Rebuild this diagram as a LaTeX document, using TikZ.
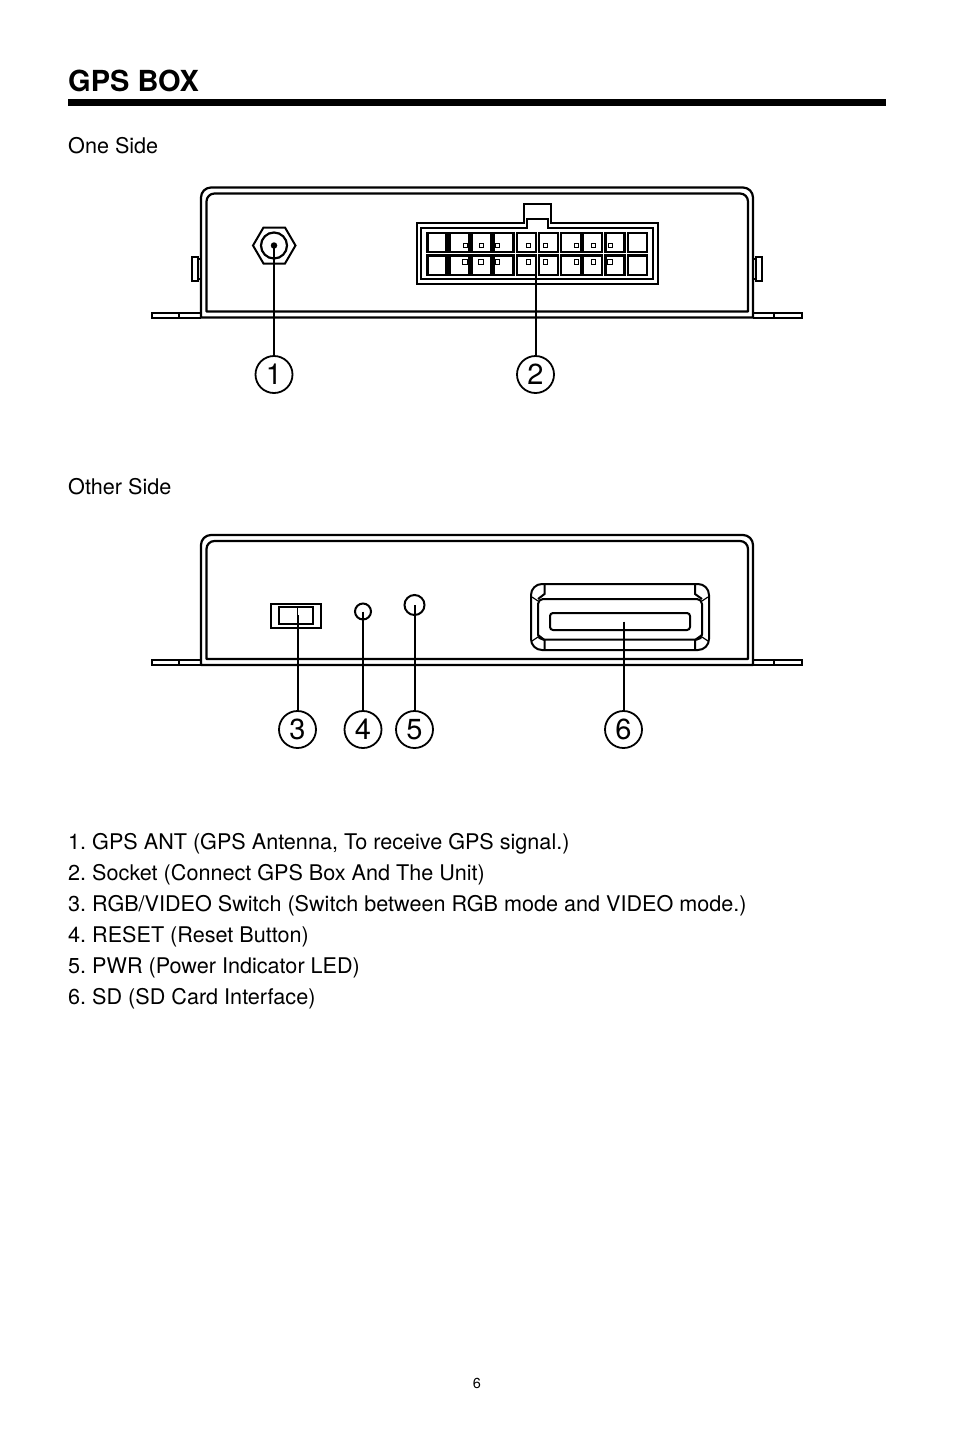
\documentclass[tikz,border=0pt]{standalone}
\usepackage{fontspec}
\setmainfont{TeX Gyre Heros}
\usetikzlibrary{positioning}
\tikzset{
        x=1pt, y=-1pt, % one unit is one pixel of the page, y runs down
        body/.style={anchor=base west, inner sep=0pt, font=\fontsize{21.6}{26}\selectfont\frenchspacing},
        title/.style={anchor=base west, inner sep=0pt, font=\fontsize{29}{34}\selectfont\bfseries},
        callout/.style={circle, draw, line width=1.8pt, minimum size=37pt, inner sep=0pt, font=\fontsize{29}{34}\selectfont},
        case/.style={line width=2.2pt, line join=round},
        part/.style={line width=2pt, line join=miter},
        cell/.style={line width=2.4pt},
        thinpart/.style={line width=1.2pt},
        leader/.style={line width=2pt},
    }
% case of the box, same on both sides, #1 shifts it down
\newcommand{\gpscase}[1]{
  \begin{scope}[yshift=-#1pt]
    \draw[case] (201,317.5) [rounded corners=10pt] -- (201,187.5) -- (753,187.5) [sharp corners] -- (753,317.5) -- cycle;
    \draw[case] (206.5,311.5) [rounded corners=8pt] -- (206.5,193.5) -- (748,193.5) [sharp corners] -- (748,311.5) -- cycle;
    \draw[part] (201,312.5) -- (152,312.5) -- (152,317.5) -- (201,317.5) (179,312.5) -- (179,317.5);
    \draw[part] (753,312.5) -- (802,312.5) -- (802,317.5) -- (753,317.5) (774,312.5) -- (774,317.5);
  \end{scope}
}
\begin{document}
\begin{tikzpicture}
    \useasboundingbox (0,0) rectangle (954,1432);
    \node[title] (head) at (68,91) {GPS BOX};
    \draw[line width=6.5pt] (68,102.3) -- (886,102.3);
    \node[body] (oneside) at (68,153) {One Side};
    \node[body] (otherside) at (68,494) {Other Side};

    % one side
    \gpscase{0}
    \draw[part] (192,256.5) rectangle (198,281);
    \draw[part] (198,259) -- (201,259) (198,278.5) -- (201,278.5);
    \draw[part] (756,256.5) rectangle (762,281);
    \draw[part] (753,259) -- (756,259) (753,278.5) -- (756,278.5);

    \draw[part] (253,245.5) -- (263.5,227.5) -- (285,227.5) -- (295.5,245.5) -- (285,263.5) -- (263.5,263.5) -- cycle;
    \node[circle, draw, line width=2.2pt, minimum size=26pt, inner sep=0pt] (ring) at (274,245.5) {};
    \node[circle, fill, minimum size=6.5pt, inner sep=0pt] (ant) at (274,245.5) {};

    \draw[part] (416.5,223) -- (523.5,223) -- (523.5,203.5) -- (550.5,203.5) -- (550.5,223) -- (657.5,223)
      -- (657.5,284) -- (416.5,284) -- cycle;
    \draw[part] (421,227.5) -- (526.5,227.5) -- (526.5,218.5) -- (547.5,218.5) -- (547.5,227.5) -- (653,227.5)
      -- (653,279) -- (421,279) -- cycle;
    \foreach \cellx/\cellw in {427.5/19, 449.5/20, 471.5/20, 493.5/20, 517/19, 539/19, 561/20, 583/19, 605.5/19, 628/19} {
      \draw[cell] (\cellx,233) rectangle ++(\cellw,19);
      \draw[cell] (\cellx,255.5) rectangle ++(\cellw,19.5);
    }
    \foreach \pinx in {465,481,497.5,528.5,545.5,576.5,593.5,610} {
      \draw[line width=1pt, fill=white] (\pinx-2,243.8) rectangle (\pinx+2,247.8);
      \draw[thinpart, fill=white] (\pinx-2.3,259.8) rectangle (\pinx+2.3,264.4);
    }
    \coordinate (socket) at (535.5,254);

    \node[callout] (c1) at (274,374.5) {1};
    \node[callout] (c2) at (535.5,374.5) {2};
    \draw[leader] (ant.center) -- (c1);
    \draw[leader] (socket) -- (c2);

    % other side
    \gpscase{347.5}
    \draw[part] (270.5,604) rectangle (320.5,627.5);
    \draw[part] (278.5,607) rectangle (313,624);
    \draw[thinpart] (297.5,607) -- (297.5,615);
    \coordinate (switch) at (297.5,615);
    \node[circle, draw, line width=2pt, minimum size=16pt, inner sep=0pt] (reset) at (363,611.5) {};
    \node[circle, draw, line width=2pt, minimum size=20pt, inner sep=0pt] (pwr) at (414.5,605) {};

    \draw[part, rounded corners=11pt] (531,584) rectangle (709,650);
    \draw[part] (544.5,584) -- (544.5,594) -- (538,599) (695,584) -- (695,594) -- (702,599);
    \draw[part] (544.5,650) -- (544.5,640) -- (538,635) (695,650) -- (695,640) -- (702,635);
    \draw[part, rounded corners=5pt] (538,599) rectangle (702,639.5);
    \draw[thinpart] (538,601) -- (532,597) (702,601) -- (708,597);
    \draw[thinpart] (538,637) -- (532,641) (702,637) -- (708,641);
    \draw[part, rounded corners=3pt] (550,613) rectangle (690,630);
    \coordinate (sdslot) at (623.5,621.5);

    \node[callout] (c3) at (297.5,729.5) {3};
    \node[callout] (c4) at (363,729.5) {4};
    \node[callout] (c5) at (414.5,729.5) {5};
    \node[callout] (c6) at (623.5,729.5) {6};
    \draw[leader] (switch) -- (c3);
    \draw[leader] (reset.center) -- (c4);
    \draw[leader] (pwr.center) -- (c5);
    \draw[leader] (sdslot) -- (c6);

    % the list
    \node[body] (l1) at (68,849) {1. GPS ANT (GPS Antenna, To receive GPS signal.)};
    \node[body] (l2) at (68,880) {2. Socket (Connect GPS Box And The Unit)};
    \node[body] (l3) at (68,911) {3. RGB/VIDEO Switch (Switch between RGB mode and VIDEO mode.)};
    \node[body] (l4) at (68,942) {4. RESET (Reset Button)};
    \node[body] (l5) at (68,973) {5. PWR (Power Indicator LED)};
    \node[body] (l6) at (68,1004) {6. SD (SD Card Interface)};
    \node[anchor=base, inner sep=0pt, font=\fontsize{14.5}{18}\selectfont] (pageno) at (477,1388) {6};
\end{tikzpicture}
\end{document}
